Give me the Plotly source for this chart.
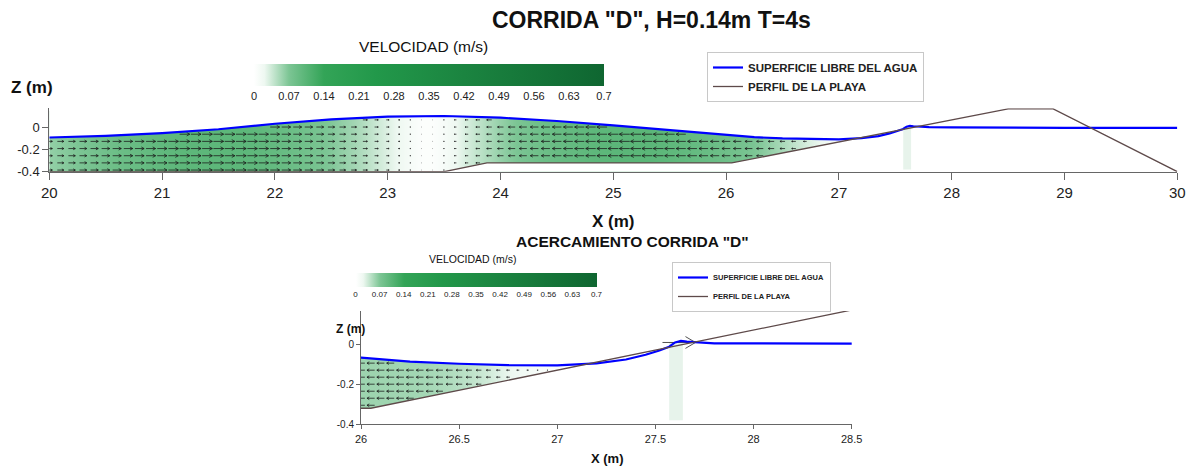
import numpy as np
import plotly.graph_objects as go
import plotly.figure_factory as ff

# ---------------- data ----------------
# free water surface (m)
surface_x = [20.0, 20.5, 21.0, 21.5, 22.0, 22.5, 23.0, 23.5, 24.0, 24.5, 25.0, 25.5,
             26.0, 26.25, 26.5, 26.75, 27.0, 27.2, 27.35, 27.45, 27.52, 27.57, 27.6,
             27.63, 27.66, 27.8, 28.0, 28.5, 29.0, 30.0]
surface_z = [-0.09, -0.075, -0.05, -0.015, 0.035, 0.075, 0.1, 0.105, 0.09, 0.06, 0.02, -0.025,
             -0.068, -0.087, -0.098, -0.105, -0.106, -0.096, -0.077, -0.053, -0.032, -0.013, 0.008,
             0.016, 0.012, 0.004, 0.002, -0.003, -0.002, -0.002]

# beach profile (m)
beach_x = [20.0, 23.5, 23.88, 26.05, 28.5, 28.9, 30.0]
beach_z = [-0.4, -0.4, -0.32, -0.32, 0.17, 0.17, -0.4]

# horizontal velocity (m/s) along the flume, columns every 0.1 m from x = 20.0
u_main = [0.06, 0.064, 0.068, 0.072, 0.076, 0.08, 0.085, 0.088, 0.09, 0.094,
          0.096, 0.098, 0.1, 0.1, 0.1, 0.1, 0.1, 0.1, 0.098, 0.096,
          0.092, 0.088, 0.083, 0.078, 0.073, 0.067, 0.06, 0.053, 0.045, 0.036,
          0.028, 0.019, 0.011, 0.004, -0.004, -0.011, -0.02, -0.031, -0.041, -0.05,
          -0.059, -0.067, -0.074, -0.08, -0.085, -0.089, -0.092, -0.095, -0.098, -0.1,
          -0.101, -0.102, -0.102, -0.102, -0.1, -0.098, -0.095, -0.092, -0.089, -0.086,
          -0.082, -0.078, -0.073, -0.066, -0.058, -0.05, -0.041, -0.032, -0.024, -0.016,
          -0.009, -0.005, -0.002]
# zoomed panel: velocity every 0.05 m from x = 26.00
u_zoom = [-0.056, -0.056, -0.055, -0.055, -0.054, -0.054, -0.053, -0.052, -0.05, -0.048,
          -0.045, -0.042, -0.038, -0.033, -0.028, -0.023, -0.018, -0.014, -0.01, -0.007,
          -0.005, -0.003, -0.002, -0.001, 0.0]
# strong vector at the breaking point (zoom panel)
jet_x = [27.62]
jet_z = [0.008]
jet_u = [0.24]
# faint vertical trace below the breaking point
breaker_x = [27.57, 27.64]
breaker_z = [-0.38, 0.01]

# arrow rows (m)
arrow_z_main = [-0.385, -0.32, -0.255, -0.19, -0.125, -0.06, 0.005, 0.07]
arrow_z_zoom = [-0.095, -0.13, -0.165, -0.2, -0.235, -0.27, -0.305]

cb_ticks = [0, 0.07, 0.14, 0.21, 0.28, 0.35, 0.42, 0.49, 0.56, 0.63, 0.7]
cb_labels = ["0", "0.07", "0.14", "0.21", "0.28", "0.35", "0.42", "0.49", "0.56", "0.63", "0.7"]

# ---------------- styling ----------------
W, H = 1188, 470
FONT = "Liberation Sans"
BLUE = "#0000ff"
BEACH = "#5e4a4a"
ARROW = "rgba(25,25,25,0.85)"
cscale = [[0, "#ffffff"], [0.03, "#eef8f1"], [0.1, "#7cc594"], [0.2, "#33a457"],
          [0.35, "#22984a"], [0.6, "#1b8440"], [1, "#0f6631"]]
field_rows = [-0.45, 0.12, 0.14]   # vertical extent of the colour field image

grid_x_main = np.round(20.0 + 0.1 * np.arange(len(u_main)), 3)
grid_x_zoom = np.round(26.0 + 0.05 * np.arange(len(u_zoom)), 3)


def px_x(p):
    return p / W


def px_y(p):
    return 1 - p / H


def quiver_trace(gx, u, rows, scale, xa, ya, pad_top, pad_bot, extra=None):
    xs, zs, us = [], [], []
    for x, uu in zip(gx, u):
        s = np.interp(x, surface_x, surface_z)
        b = np.interp(x, beach_x, beach_z)
        for z in rows:
            if b + pad_bot < z < s - pad_top:
                xs.append(x)
                zs.append(z)
                us.append(uu)
    if extra:
        for x, z, uu in zip(*extra):
            xs.append(x)
            zs.append(z)
            us.append(uu)
    xs = np.array(xs)
    zs = np.array(zs)
    us = np.array(us)
    q = ff.create_quiver(xs - us * scale / 2, zs, us, np.zeros_like(us), scale=scale,
                         arrow_scale=0.35, angle=np.pi / 6,
                         line=dict(color=ARROW, width=0.9))
    tr = q.data[0]
    tr.update(xaxis=xa, yaxis=ya, showlegend=False, hoverinfo="skip")
    return tr


fig = go.Figure()

# velocity colour fields
absu_main = np.abs(u_main)
absu_zoom = np.abs(u_zoom)
fig.add_trace(go.Heatmap(
    x=grid_x_main, y=field_rows, z=[absu_main] * len(field_rows),
    zmin=0, zmax=0.7, colorscale=cscale, zsmooth="best", xaxis="x", yaxis="y",
    hoverinfo="skip",
    colorbar=dict(orientation="h", thickness=22, len=350, lenmode="pixels",
                  x=px_x(429), xanchor="center", y=px_y(64), yanchor="top", ypad=0, xpad=0,
                  outlinewidth=0, tickvals=cb_ticks, ticktext=cb_labels, ticks="",
                  tickfont=dict(size=11, family=FONT, color="#222"))))
fig.add_trace(go.Heatmap(
    x=grid_x_zoom, y=field_rows, z=[absu_zoom] * len(field_rows),
    zmin=0, zmax=0.7, colorscale=cscale, zsmooth="best", xaxis="x2", yaxis="y2",
    hoverinfo="skip",
    colorbar=dict(orientation="h", thickness=14, len=241, lenmode="pixels",
                  x=px_x(476), xanchor="center", y=px_y(273), yanchor="top", ypad=0, xpad=0,
                  outlinewidth=0, tickvals=cb_ticks, ticktext=cb_labels, ticks="",
                  tickfont=dict(size=8, family=FONT, color="#222"))))

# white masks above the water surface and below the beach, faint breaker trace
for xa, ya in (("x", "y"), ("x2", "y2")):
    fig.add_trace(go.Scatter(x=surface_x + [30.5, 19.5], y=surface_z + [0.5, 0.5],
                             mode="lines", fill="toself", fillcolor="white", line=dict(width=0),
                             xaxis=xa, yaxis=ya, showlegend=False, hoverinfo="skip"))
    fig.add_trace(go.Scatter(x=beach_x + [30.5, 30.5, 19.5, 19.5],
                             y=beach_z + [beach_z[-1], -0.6, -0.6, beach_z[0]],
                             mode="lines", fill="toself", fillcolor="white", line=dict(width=0),
                             xaxis=xa, yaxis=ya, showlegend=False, hoverinfo="skip"))
    fig.add_trace(go.Scatter(x=[breaker_x[0], breaker_x[1], breaker_x[1], breaker_x[0]],
                             y=[breaker_z[0], breaker_z[0], breaker_z[1], breaker_z[1]],
                             mode="lines", fill="toself", fillcolor="rgba(170,212,182,0.28)",
                             line=dict(width=0), xaxis=xa, yaxis=ya, showlegend=False,
                             hoverinfo="skip"))

# velocity arrows
fig.add_trace(quiver_trace(grid_x_main, u_main, arrow_z_main, 0.9, "x", "y", 0.02, 0.012))
fig.add_trace(quiver_trace(grid_x_zoom, u_zoom, arrow_z_zoom, 0.7, "x2", "y2", 0.012, 0.008,
                           extra=(jet_x, jet_z, jet_u)))

# lines
fig.add_trace(go.Scatter(x=surface_x, y=surface_z, mode="lines", line=dict(color=BLUE, width=2.2),
                         name="<b>SUPERFICIE LIBRE DEL AGUA</b>", xaxis="x", yaxis="y", legend="legend"))
fig.add_trace(go.Scatter(x=beach_x, y=beach_z, mode="lines", line=dict(color=BEACH, width=1.3),
                         name="<b>PERFIL DE LA PLAYA</b>", xaxis="x", yaxis="y", legend="legend"))
fig.add_trace(go.Scatter(x=surface_x, y=surface_z, mode="lines", line=dict(color=BLUE, width=2.2),
                         name="<b>SUPERFICIE LIBRE DEL AGUA</b>", xaxis="x2", yaxis="y2", legend="legend2"))
fig.add_trace(go.Scatter(x=beach_x, y=beach_z, mode="lines", line=dict(color=BEACH, width=1.3),
                         name="<b>PERFIL DE LA PLAYA</b>", xaxis="x2", yaxis="y2", legend="legend2"))

axis_common = dict(showgrid=False, zeroline=False, showline=True, linecolor="#666", linewidth=1,
                   ticks="outside", tickcolor="#666", mirror=False)

fig.update_layout(
    width=W, height=H, margin=dict(l=0, r=0, t=0, b=0, autoexpand=False),
    paper_bgcolor="white", plot_bgcolor="white",
    font=dict(family=FONT, color="#222"),
    xaxis=dict(domain=[px_x(49.3), px_x(1177.3)], range=[20, 30], anchor="y",
               tickvals=[20, 21, 22, 23, 24, 25, 26, 27, 28, 29, 30], ticklen=7,
               tickfont=dict(size=15), **axis_common),
    yaxis=dict(domain=[px_y(171.7), px_y(108.3)], range=[-0.4, 0.175], anchor="x",
               tickvals=[-0.4, -0.2, 0], ticktext=["-0.4", "-0.2", "0"], ticklen=6,
               tickfont=dict(size=13), **axis_common),
    xaxis2=dict(domain=[px_x(361), px_x(851.7)], range=[26, 28.5], anchor="y2",
                tickvals=[26, 26.5, 27, 27.5, 28, 28.5], ticklen=4,
                tickfont=dict(size=11), **axis_common),
    yaxis2=dict(domain=[px_y(424.3), px_y(311)], range=[-0.4, 0.165], anchor="x2",
                tickvals=[-0.4, -0.2, 0], ticktext=["-0.4", "-0.2", "0"], ticklen=4,
                tickfont=dict(size=10), **axis_common),
    legend=dict(x=px_x(707), y=px_y(52), xanchor="left", yanchor="top",
                bordercolor="#c8c8c8", borderwidth=1, bgcolor="white", tracegroupgap=0,
                font=dict(size=11.5, family=FONT, color="#222")),
    legend2=dict(x=px_x(672), y=px_y(262), xanchor="left", yanchor="top",
                 bordercolor="#c8c8c8", borderwidth=1, bgcolor="white", tracegroupgap=0,
                 font=dict(size=7.5, family=FONT, color="#222")),
)

ann = [
    ("<b>CORRIDA \"D\", H=0.14m T=4s</b>", 651, 20, 23),
    ("VELOCIDAD (m/s)", 423, 46, 15.5),
    ("<b>Z (m)</b>", 32, 87, 17),
    ("<b>X (m)</b>", 613, 221, 17),
    ("<b>ACERCAMIENTO CORRIDA \"D\"</b>", 632, 242, 15.5),
    ("VELOCIDAD (m/s)", 473, 259, 10.5),
    ("<b>Z (m)</b>", 350, 329, 12),
    ("<b>X (m)</b>", 607, 458, 13),
]
for t, x, y, s in ann:
    fig.add_annotation(text=t, x=px_x(x), y=px_y(y), xref="paper", yref="paper",
                       xanchor="center", yanchor="middle", showarrow=False,
                       font=dict(size=s, family=FONT, color="#111"))

fig.write_html("out.html", config={"displayModeBar": False},
               post_script="document.body.style.margin='0';document.body.style.overflow='hidden';")
